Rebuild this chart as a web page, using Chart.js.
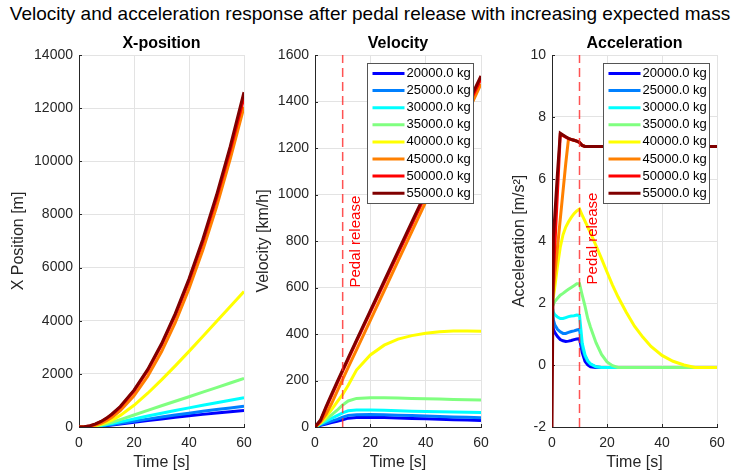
<!DOCTYPE html>
<html lang="en">
<head>
<meta charset="UTF-8">
<title>Velocity and acceleration response</title>
<script src="https://cdn.jsdelivr.net/npm/chart.js"></script>
<style>
    body {
        margin: 0;
        background: #fff;
        font-family: "Liberation Sans", Arial, sans-serif;
    }
    #wrap {
        position: relative;
        width: 740px;
        height: 474px;
        overflow: hidden;
    }
    #mainTitle {
        position: absolute;
        left: 0;
        top: 4px;
        width: 740px;
        line-height: 20px;
        text-align: center;
        font-size: 19px;
        color: #000;
        white-space: nowrap;
    }
    canvas {
        position: absolute;
        top: 30px;
    }
</style>
</head>
<body>
<div id="wrap">
    <div id="mainTitle">Velocity and acceleration response after pedal release with increasing expected mass</div>
    <canvas id="posChart" width="265" height="444" style="left:0px"></canvas>
    <canvas id="velChart" width="250" height="444" style="left:250px"></canvas>
    <canvas id="accChart" width="240" height="444" style="left:500px"></canvas>
</div>

<script>
// ---- data ----
const masses = [20000, 25000, 30000, 35000, 40000, 45000, 50000, 55000];
const seriesColors = ["#0000ff", "#0080ff", "#00ffff", "#80ff80", "#ffff00", "#ff8000", "#ff0000", "#800000"];
const releaseTime = 10;

// time samples [s]
const tSmooth = [0, 2, 4, 6, 8, 10, 12, 15, 20, 25, 30, 35, 40, 45, 50, 55, 60];
const tAcc = [0, 0.5, 1, 2, 3, 4, 5, 6, 7, 8, 9, 10, 11, 12, 13, 14, 16, 18, 20, 22, 24, 27, 30, 33, 36, 40, 44, 48, 52, 56, 60];

// X position [m]
const pos20 = [0, 2, 9, 19, 33, 50, 72, 110, 175, 241, 304, 365, 422, 475, 526, 574, 620];
const pos25 = [0, 3, 10, 23, 40, 63, 90, 136, 216, 296, 373, 449, 521, 590, 655, 719, 780];
const pos30 = [0, 4, 15, 34, 59, 92, 130, 194, 303, 411, 517, 620, 720, 818, 915, 1009, 1100];
const pos35 = [0, 4, 17, 41, 75, 121, 179, 277, 450, 625, 798, 970, 1140, 1310, 1480, 1655, 1830];
const pos40 = [0, 5, 22, 55, 105, 173, 261, 436, 816, 1271, 1772, 2300, 2847, 3405, 3969, 4536, 5100];
const pos45 = [0, 6, 27, 70, 141, 240, 368, 613, 1175, 1910, 2830, 3925, 5200, 6650, 8280, 10090, 12050];
const pos50 = [0, 8, 42, 106, 198, 320, 472, 748, 1355, 2130, 3080, 4200, 5495, 6965, 8605, 10420, 12400];
const pos55 = [0, 10, 48, 115, 210, 335, 490, 770, 1385, 2170, 3130, 4265, 5575, 7060, 8720, 10560, 12600];

// velocity [km/h]
const vel20 = [0, 7, 13, 19, 25, 31, 38, 41, 42, 41, 39, 37, 35, 33, 31, 30, 28];
const vel25 = [0, 9, 17, 25, 33, 42, 50, 53, 54, 53, 51, 49, 47, 45, 43, 42, 40];
const vel30 = [0, 13, 25, 37, 49, 61, 70, 73, 73, 72, 70, 68, 67, 66, 64, 63, 62];
const vel35 = [0, 15, 33, 52, 72, 95, 112, 123, 126, 126, 125, 123, 121, 120, 118, 117, 116];
const vel40 = [0, 18, 44, 75, 108, 140, 180, 245, 310, 352, 378, 393, 403, 410, 413, 413, 412];
const vel45 = [0, 21, 55, 101, 153, 205, 256, 332, 459, 586, 713, 840, 967, 1094, 1221, 1348, 1475];
const vel50 = [0, 26, 82, 135, 188, 240, 291, 368, 494, 620, 746, 872, 998, 1124, 1249, 1374, 1498];
const vel55 = [0, 30, 88, 141, 194, 246, 297, 374, 501, 628, 755, 882, 1008, 1135, 1260, 1385, 1510];

// acceleration [m/s^2]
const acc20 = [1.6, 1.15, 1.05, 0.92, 0.82, 0.78, 0.76, 0.77, 0.79, 0.82, 0.84, 0.85, 0.4, 0.12, 0.0, -0.06, -0.08, -0.08, -0.08, -0.08, -0.08, -0.08, -0.08, -0.08, -0.08, -0.08, -0.08, -0.08, -0.08, -0.08, -0.08];
const acc25 = [1.75, 1.45, 1.3, 1.15, 1.07, 1.02, 1.02, 1.05, 1.08, 1.1, 1.13, 1.15, 0.55, 0.27, 0.12, 0.02, -0.06, -0.08, -0.08, -0.08, -0.08, -0.08, -0.08, -0.08, -0.08, -0.08, -0.08, -0.08, -0.08, -0.08, -0.08];
const acc30 = [1.9, 1.7, 1.62, 1.55, 1.5, 1.5, 1.53, 1.56, 1.58, 1.59, 1.61, 1.6, 0.7, 0.33, 0.13, 0.04, -0.06, -0.08, -0.08, -0.08, -0.08, -0.08, -0.08, -0.08, -0.08, -0.08, -0.08, -0.08, -0.08, -0.08, -0.08];
const acc35 = [2.0, 1.95, 2.05, 2.15, 2.25, 2.31, 2.38, 2.44, 2.5, 2.56, 2.62, 2.62, 2.25, 1.9, 1.5, 1.22, 0.72, 0.34, 0.1, -0.02, -0.08, -0.08, -0.08, -0.08, -0.08, -0.08, -0.08, -0.08, -0.08, -0.08, -0.08];
const acc40 = [2.0, 2.2, 2.5, 3.2, 3.8, 4.2, 4.45, 4.62, 4.76, 4.88, 4.97, 5.03, 4.83, 4.64, 4.45, 4.26, 3.85, 3.43, 3.0, 2.58, 2.2, 1.7, 1.25, 0.9, 0.6, 0.31, 0.12, 0.0, -0.08, -0.08, -0.08];
const acc45 = [2.0, 2.45, 2.9, 3.8, 4.7, 5.6, 6.5, 7.3, 7.27, 7.25, 7.22, 7.18, 7.08, 7.05, 7.05, 7.05, 7.05, 7.05, 7.05, 7.05, 7.05, 7.05, 7.05, 7.05, 7.05, 7.05, 7.05, 7.05, 7.05, 7.05, 7.05];
const acc50 = [2.0, 2.9, 3.8, 5.6, 7.42, 7.4, 7.35, 7.3, 7.27, 7.25, 7.22, 7.18, 7.08, 7.05, 7.05, 7.05, 7.05, 7.05, 7.05, 7.05, 7.05, 7.05, 7.05, 7.05, 7.05, 7.05, 7.05, 7.05, 7.05, 7.05, 7.05];
const acc55 = [-2, 4.1, 4.8, 6.2, 7.48, 7.42, 7.36, 7.31, 7.28, 7.25, 7.22, 7.18, 7.08, 7.05, 7.05, 7.05, 7.05, 7.05, 7.05, 7.05, 7.05, 7.05, 7.05, 7.05, 7.05, 7.05, 7.05, 7.05, 7.05, 7.05, 7.05];

const massLabels = masses.map(m => m.toFixed(1) + " kg");

// ---- styling ----
const FONT = '"Liberation Sans", Arial, sans-serif';
const axisColor = "#262626";
const gridColor = "#e3e3e3";
Chart.defaults.font.family = FONT;

// subplot title centred over the axes
const axesTitle = {
    id: "axesTitle",
    afterDraw(chart, args, opts) {
        const {ctx, chartArea} = chart;
        ctx.save();
        ctx.fillStyle = "#000";
        ctx.font = "bold 16px " + FONT;
        ctx.textAlign = "center";
        ctx.textBaseline = "middle";
        ctx.fillText(opts.text, (chartArea.left + chartArea.right) / 2, chartArea.top - 11);
        ctx.restore();
    }
};

// small inward tick marks like matlab
const innerTicks = {
    id: "innerTicks",
    beforeDatasetsDraw(chart) {
        const {ctx, chartArea, scales: {x, y}} = chart;
        ctx.save();
        ctx.strokeStyle = axisColor;
        ctx.lineWidth = 1;
        ctx.beginPath();
        x.ticks.forEach(t => {
            const p = Math.round(x.getPixelForValue(t.value)) + 0.5;
            ctx.moveTo(p, chartArea.bottom);
            ctx.lineTo(p, chartArea.bottom - 3);
        });
        y.ticks.forEach(t => {
            const p = Math.round(y.getPixelForValue(t.value)) + 0.5;
            ctx.moveTo(chartArea.left, p);
            ctx.lineTo(chartArea.left + 3, p);
        });
        ctx.stroke();
        ctx.restore();
    }
};

// dashed "pedal release" marker
const releaseLine = {
    id: "releaseLine",
    afterDatasetsDraw(chart, args, opts) {
        if (!opts.show) return;
        const {ctx, chartArea, scales: {x, y}} = chart;
        const px = x.getPixelForValue(releaseTime);
        ctx.save();
        ctx.beginPath();
        ctx.rect(chartArea.left, chartArea.top, chartArea.width, chartArea.height);
        ctx.clip();
        ctx.strokeStyle = "rgba(255,40,40,0.8)";
        ctx.lineWidth = 1.5;
        ctx.setLineDash([9, 5]);
        ctx.beginPath();
        ctx.moveTo(px, chartArea.bottom);
        ctx.lineTo(px, chartArea.top);
        ctx.stroke();
        ctx.setLineDash([]);
        ctx.translate(px + 13, y.getPixelForValue(opts.labelAt));
        ctx.rotate(-Math.PI / 2);
        ctx.fillStyle = "#ff0000";
        ctx.font = "15px " + FONT;
        ctx.textAlign = "left";
        ctx.textBaseline = "middle";
        ctx.fillText("Pedal release", 0, 0);
        ctx.restore();
    }
};

// boxed legend in the upper right corner of the axes
const boxLegend = {
    id: "boxLegend",
    afterDraw(chart, args, opts) {
        if (!opts.show) return;
        const {ctx, chartArea} = chart;
        const w = 106, h = 140, rowH = 17.1;
        const left = Math.round(chartArea.right - 8 - w) + 0.5;
        const top = Math.round(chartArea.top + 8) + 0.5;
        ctx.save();
        ctx.fillStyle = "#fff";
        ctx.fillRect(left, top, w, h);
        ctx.strokeStyle = "#555";
        ctx.lineWidth = 1;
        ctx.strokeRect(left, top, w, h);
        ctx.font = "13px " + FONT;
        ctx.textBaseline = "middle";
        ctx.textAlign = "left";
        massLabels.forEach((lab, i) => {
            const yy = top + 10 + i * rowH;
            ctx.strokeStyle = seriesColors[i];
            ctx.lineWidth = 3;
            ctx.beginPath();
            ctx.moveTo(left + 5, yy);
            ctx.lineTo(left + 37, yy);
            ctx.stroke();
            ctx.fillStyle = "#000";
            ctx.fillText(lab, left + 39, yy);
        });
        ctx.restore();
    }
};

function makeChart(id, times, seriesList, cfg) {
    return new Chart(document.getElementById(id), {
        type: "line",
        data: {
            datasets: seriesList.map((vals, i) => ({
                label: massLabels[i],
                data: times.map((t, k) => ({x: t, y: vals[k]})),
                borderColor: seriesColors[i],
                borderWidth: 3,
                pointRadius: 0,
                tension: 0,
                fill: false,
                order: seriesList.length - i
            }))
        },
        plugins: [axesTitle, innerTicks, releaseLine, boxLegend],
        options: {
            responsive: false,
            animation: false,
            layout: {padding: {top: 25, right: cfg.padRight, left: 0, bottom: 0}},
            plugins: {
                legend: {display: false},
                tooltip: {enabled: false},
                axesTitle: {text: cfg.title},
                releaseLine: {show: cfg.release, labelAt: cfg.labelAt},
                boxLegend: {show: cfg.legend}
            },
            scales: {
                x: {
                    type: "linear",
                    min: 0,
                    max: 60,
                    afterFit: s => { s.height = 47; },
                    ticks: {stepSize: 20, padding: 8, color: axisColor, font: {size: 14}, callback: v => String(v)},
                    grid: {color: gridColor, drawTicks: false},
                    border: {color: axisColor},
                    title: {display: true, text: "Time [s]", color: axisColor, font: {size: 16}, padding: {top: 0, bottom: 2}}
                },
                y: {
                    min: cfg.yMin,
                    max: cfg.yMax,
                    afterFit: s => { s.width = cfg.yWidth; },
                    ticks: {stepSize: cfg.yStep, padding: 6, color: axisColor, font: {size: 14}, callback: v => String(v)},
                    grid: {color: gridColor, drawTicks: false},
                    border: {color: axisColor},
                    title: {display: true, text: cfg.yTitle, color: axisColor, font: {size: 16}, padding: {top: cfg.yTitlePad, bottom: 0}}
                }
            }
        }
    });
}

makeChart("posChart", tSmooth, [pos20, pos25, pos30, pos35, pos40, pos45, pos50, pos55], {
    title: "X-position", yTitle: "X Position [m]", yMin: 0, yMax: 14000, yStep: 2000,
    yWidth: 79, yTitlePad: 9, padRight: 21, release: false, legend: false
});

makeChart("velChart", tSmooth, [vel20, vel25, vel30, vel35, vel40, vel45, vel50, vel55], {
    title: "Velocity", yTitle: "Velocity [km/h]", yMin: 0, yMax: 1600, yStep: 200,
    yWidth: 65, yTitlePad: 4, padRight: 19, release: true, labelAt: 600, legend: true
});

makeChart("accChart", tAcc, [acc20, acc25, acc30, acc35, acc40, acc45, acc50, acc55], {
    title: "Acceleration", yTitle: "Acceleration [m/s²]", yMin: -2, yMax: 10, yStep: 2,
    yWidth: 52, yTitlePad: 10, padRight: 23, release: true, labelAt: 2.6, legend: true
});
</script>
</body>
</html>
